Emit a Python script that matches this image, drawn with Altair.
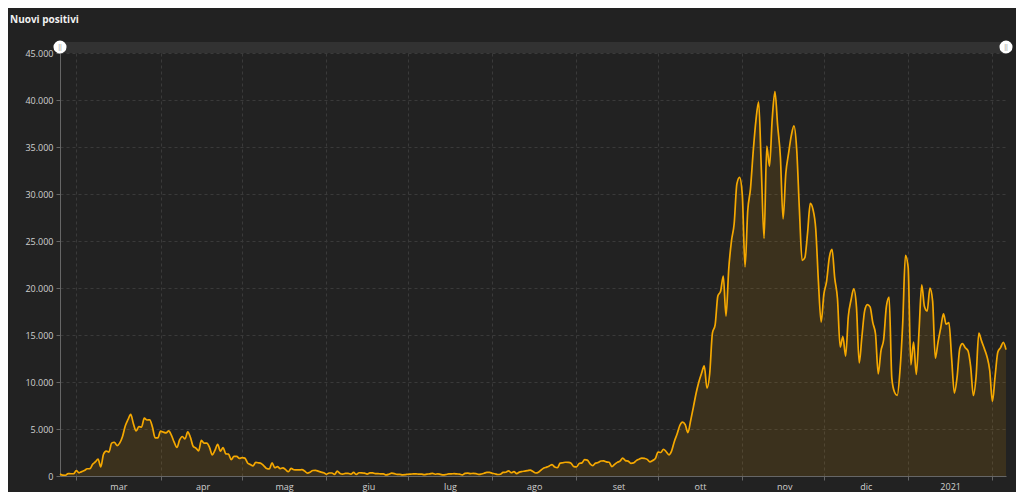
import altair as alt
import pandas as pd

start_date = "2020-02-24"
nuovi_positivi = [
    # feb 24-29
    221, 93, 78, 250, 238, 240,
    # mar
    566, 342, 466, 587, 769, 778, 1247, 1492, 1797, 977, 2313, 2651, 2547, 3497, 3590, 3233,
    3526, 4207, 5322, 5986, 6557, 5560, 4789, 5249, 5210, 6153, 5959, 5974, 5217, 4050, 4053,
    # apr
    4782, 4668, 4585, 4805, 4316, 3599, 3039, 3836, 4204, 3951, 4694, 4092, 3153, 2972, 2667,
    3786, 3493, 3491, 3047, 2256, 2729, 3370, 2646, 3021, 2357, 2324, 1739, 2091, 2086, 1872,
    # mag
    1965, 1900, 1389, 1221, 1075, 1444, 1401, 1327, 1083, 802, 744, 1402, 888, 992, 789, 875,
    675, 451, 813, 665, 642, 652, 669, 531, 300, 397, 584, 593, 516, 416, 355,
    # giu
    178, 318, 321, 177, 518, 270, 197, 280, 283, 202, 379, 163, 346, 338, 301, 210, 329, 333,
    251, 262, 224, 218, 122, 190, 296, 259, 175, 174, 126, 142,
    # lug
    187, 201, 223, 235, 192, 208, 138, 193, 229, 276, 188, 234, 169, 114, 162, 230, 233, 249,
    219, 190, 129, 282, 306, 252, 275, 255, 170, 212, 289, 386, 379,
    # ago
    295, 239, 159, 190, 384, 402, 552, 347, 463, 259, 412, 481, 523, 574, 629, 479, 320, 403,
    642, 845, 947, 1071, 1210, 953, 878, 1367, 1411, 1462, 1444, 1365, 996,
    # set
    978, 1326, 1397, 1733, 1695, 1297, 1108, 1370, 1434, 1597, 1616, 1501, 1458, 1008, 1229,
    1452, 1585, 1907, 1638, 1587, 1350, 1392, 1640, 1786, 1912, 1869, 1766, 1494, 1648, 1851,
    # ott
    2548, 2499, 2844, 2578, 2257, 2677, 3678, 4458, 5372, 5724, 5456, 4619, 5901, 7332, 8804,
    10010, 10925, 11705, 9338, 10874, 15199, 16079, 19143, 19644, 21273, 17012, 21994, 24991,
    26831, 31084, 31758,
    # nov
    29907, 22253, 28244, 30550, 34505, 37809, 39811, 32616, 25271, 35098, 32961, 37978, 40902,
    37255, 33979, 27354, 32191, 34283, 36176, 37242, 34767, 28337, 22930, 23232, 25853, 29003,
    28352, 26323, 20648, 16377,
    # dic
    19350, 20709, 23225, 24099, 21052, 18887, 13720, 14842, 12756, 16999, 18727, 19903, 17938,
    12030, 14844, 17572, 18236, 17992, 16308, 15104, 10872, 13318, 14522, 18040, 19037, 10407,
    8913, 8585, 11212, 16202, 23477,
    # gen 2021
    22211, 11831, 14245, 10800, 15378, 20331, 18020, 17533, 19978, 18627, 12532, 14242, 15774,
    17246, 16146, 16310, 12545, 8824, 10497, 13571, 14078, 13633, 13331, 11629, 8562, 10593,
    15204, 14372, 13574, 12715, 11252,
    # feb 2021
    7925, 10630, 13189, 13659, 14218, 13442,
]
dates = pd.date_range(start_date, periods=len(nuovi_positivi), freq="D").strftime("%Y-%m-%d").tolist()
month_labels = ["gen", "feb", "mar", "apr", "mag", "giu", "lug", "ago", "set", "ott", "nov", "dic"]
title_text = "Nuovi positivi"
y_ticks = [0, 5000, 10000, 15000, 20000, 25000, 30000, 35000, 40000, 45000]

df = pd.DataFrame({"data": dates, "valore": nuovi_positivi})

W, H = 946, 423
BG = "#222222"
LINE = "#f5a800"

month_js = "[" + ",".join("'" + m + "'" for m in month_labels) + "]"

x_enc = alt.X(
    "data:T",
    scale=alt.Scale(type="utc", domain=[dates[0], dates[-1]], nice=False),
    axis=alt.Axis(
        title=None,
        tickCount={"interval": "month", "step": 1},
        labelExpr="utcmonth(datum.value) == 0 ? utcyear(datum.value) + '' : "
                  "(utcyear(datum.value) > 2020 ? '' : " + month_js + "[utcmonth(datum.value)])",
        labelOffset=42,
        labelFlush=False,
        labelOverlap=False,
        labelColor="#d0d0d0",
        labelFontSize=9,
        labelFont="Open Sans",
        labelPadding=2,
        tickSize=4,
        tickColor="#666666",
        domainColor="#666666",
        gridColor="#3a3a3a",
        gridDash=[3, 3],
    ),
)
y_enc = alt.Y(
    "valore:Q",
    scale=alt.Scale(domain=[0, 45000], nice=False),
    axis=alt.Axis(
        title=None,
        values=y_ticks,
        labelExpr="replace(format(datum.value, ','), ',', '.')",
        labelColor="#d0d0d0",
        labelFontSize=9,
        labelFont="Open Sans",
        labelPadding=3,
        tickSize=4,
        tickColor="#666666",
        domainColor="#666666",
        gridColor="#3a3a3a",
        gridDash=[3, 3],
    ),
)

area = alt.Chart(df).mark_area(
    color=LINE, opacity=0.12, interpolate="monotone"
).encode(x=x_enc, y=y_enc)

line = alt.Chart(df).mark_line(
    color=LINE, strokeWidth=1.7, interpolate="monotone"
).encode(x="data:T", y="valore:Q")

one = pd.DataFrame({"t": [title_text]})

scroll_band = alt.Chart(one).mark_rect(color="#323232").encode(
    x=alt.value(0), x2=alt.value(W), y=alt.value(-11), y2=alt.value(0)
)
handle_df = pd.DataFrame({"h": ["l", "r"], "px": [0, W]})
handles = alt.Chart(handle_df).mark_circle(
    color="#ffffff", opacity=1, size=170
).encode(x=alt.X("px:Q", scale=None, axis=None), y=alt.value(-6))
handle_marks = alt.Chart(handle_df).mark_text(
    text="||", color="#9a9a9a", fontSize=7, baseline="middle", align="center"
).encode(x=alt.X("px:Q", scale=None, axis=None), y=alt.value(-6))

title = alt.Chart(one).mark_text(
    align="left", baseline="middle", color="#f0f0f0", fontSize=10,
    fontWeight="bold", font="Open Sans"
).encode(text="t:N", x=alt.value(-50), y=alt.value(-33))

chart = alt.layer(area, line, scroll_band, handles, handle_marks, title).properties(
    width=W,
    height=H,
    autosize=alt.AutoSizeParams(type="none"),
    padding={"left": 52, "top": 45, "right": 10, "bottom": 16},
    background=BG,
).configure_view(stroke=None)

chart.save("out.html", embed_options={"renderer": "svg", "actions": False})
